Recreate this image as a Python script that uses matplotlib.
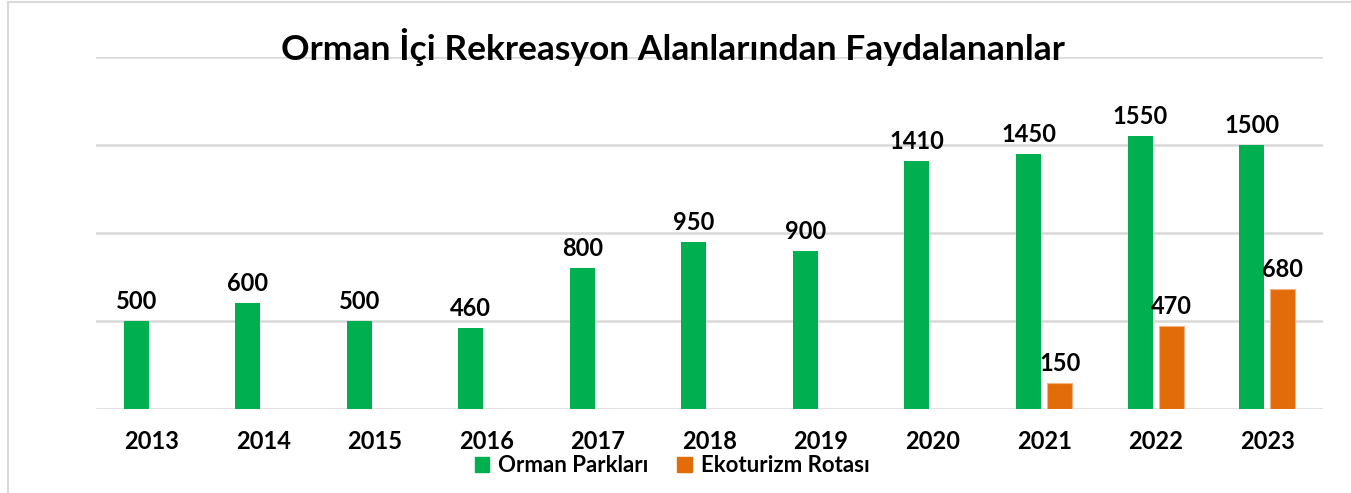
import matplotlib.pyplot as plt
import numpy as np
from matplotlib.patches import Rectangle

plt.rcParams['font.family'] = ['Lato', 'DejaVu Sans']

years = ['2013', '2014', '2015', '2016', '2017', '2018', '2019', '2020', '2021', '2022', '2023']
orman_parklari = [500, 600, 500, 460, 800, 950, 900, 1410, 1450, 1550, 1500]
ekoturizm = [None, None, None, None, None, None, None, None, 150, 470, 680]

green = '#00B050'
orange = '#E36C0A'

fig = plt.figure(figsize=(13.51, 4.93), dpi=100)
ax = fig.add_axes([96 / 1351, 1 - 409 / 493, 1227 / 1351, 352 / 493])

x = np.arange(len(years))
w = 0.224
off = 0.14

ax.bar(x - off, orman_parklari, w, color=green, zorder=3)
for xi, v in zip(x, orman_parklari):
    ax.text(xi - off, v + 45, str(v), ha='center', va='bottom',
            fontsize=17, fontweight='bold', color='black')

ek_x = [xi for xi, v in zip(x, ekoturizm) if v is not None]
ek_v = [v for v in ekoturizm if v is not None]
ax.bar(np.array(ek_x) + off, ek_v, w, color=orange, edgecolor='#F4B183',
       linewidth=0.8, zorder=3)
for xi, v in zip(ek_x, ek_v):
    ax.text(xi + off, v + 45, str(v), ha='center', va='bottom',
            fontsize=17, fontweight='bold', color='black')

ax.set_xlim(-0.5, len(years) - 0.5)
ax.set_ylim(0, 2000)
ax.set_yticks([0, 500, 1000, 1500, 2000])
ax.yaxis.grid(True, color='#D9D9D9', linewidth=1.8, zorder=0)
ax.tick_params(axis='y', left=False, labelleft=False)
ax.set_xticks(x)
ax.set_xticklabels(years, fontsize=17, fontweight='bold')
ax.tick_params(axis='x', length=0, pad=15)
for s in ax.spines.values():
    s.set_visible(False)

fig.text(673 / 1351, 1 - 47 / 493, 'Orman İçi Rekreasyon Alanlarından Faydalananlar',
         ha='center', va='center', fontsize=25.5, fontweight='bold')

handles = [Rectangle((0, 0), 1, 1, color=green), Rectangle((0, 0), 1, 1, color=orange)]
fig.legend(handles, ['Orman Parkları', 'Ekoturizm Rotası'], loc='center',
           bbox_to_anchor=(672 / 1351, 1 - 466 / 493), ncol=2, frameon=False,
           prop={'weight': 'bold', 'size': 16},
           handlelength=0.65, handleheight=0.65, columnspacing=1.3, handletextpad=0.4)

fig.add_artist(Rectangle((8 / 1351, -0.1), 1.2, 1 - 2 / 493 + 0.1,
                         transform=fig.transFigure, fill=False,
                         edgecolor='#D9D9D9', linewidth=1.5))

fig.savefig('out.png', dpi=100)
